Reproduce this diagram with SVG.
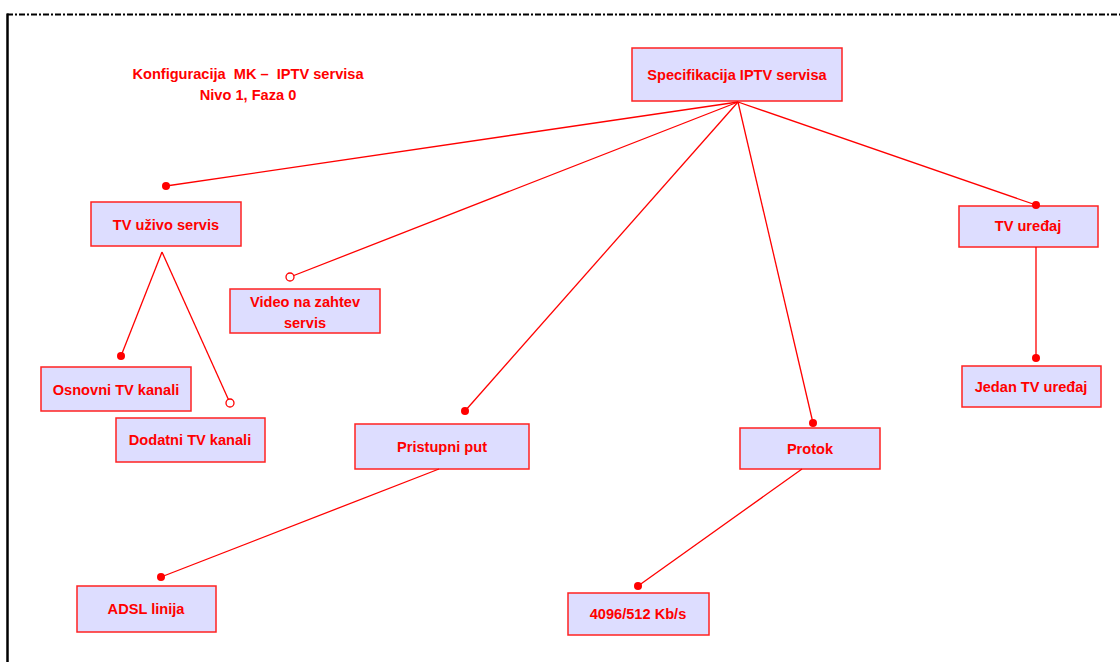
<svg xmlns="http://www.w3.org/2000/svg" width="1120" height="662" viewBox="0 0 1120 662">
<style>
.box{fill:#DDDDFF;stroke:#FF2222;stroke-width:1.5}
.t{font-family:"Liberation Sans",Arial,sans-serif;font-weight:bold;font-size:14.6px;fill:#FF0000;text-anchor:middle;dominant-baseline:central;white-space:pre}
.c{stroke:#FF0000;stroke-width:1.3;fill:none}
.dot{fill:#FF0000}
.odot{fill:#FFFFFF;stroke:#FF0000;stroke-width:1.3}
</style>
<rect width="1120" height="662" fill="#FFFFFF"/>
<g id="frame">
<line x1="7" y1="14.5" x2="1120" y2="14.5" stroke="#000" stroke-width="2" stroke-dasharray="6,2,2,2"/>
<line x1="7.5" y1="13.5" x2="7.5" y2="662" stroke="#000" stroke-width="2.5"/>
</g>
<g id="title">
<text class="t" x="248" y="74" xml:space="preserve">Konfiguracija  MK –  IPTV servisa</text>
<text class="t" x="248" y="95">Nivo 1, Faza 0</text>
</g>
<g id="spec">
<rect class="box" x="632" y="48" width="210" height="53"/>
<text class="t" x="737" y="75">Specifikacija IPTV servisa</text>
</g>
<g id="tvuzivo">
<rect class="box" x="91" y="202" width="150" height="44"/>
<text class="t" x="166" y="225">TV uživo servis</text>
</g>
<g id="vod">
<rect class="box" x="230" y="289" width="150" height="44"/>
<text class="t" x="305" y="302">Video na zahtev</text>
<text class="t" x="305" y="323">servis</text>
</g>
<g id="osnovni">
<rect class="box" x="41" y="367" width="150" height="44"/>
<text class="t" x="116" y="390">Osnovni TV kanali</text>
</g>
<g id="dodatni">
<rect class="box" x="116" y="418" width="149" height="44"/>
<text class="t" x="190" y="440">Dodatni TV kanali</text>
</g>
<g id="tvuredjaj">
<rect class="box" x="959" y="206" width="139" height="41"/>
<text class="t" x="1028" y="226">TV uređaj</text>
</g>
<g id="jedan">
<rect class="box" x="962" y="366" width="139" height="41"/>
<text class="t" x="1031" y="387">Jedan TV uređaj</text>
</g>
<g id="pristupni">
<rect class="box" x="355" y="424" width="174" height="45"/>
<text class="t" x="442" y="447">Pristupni put</text>
</g>
<g id="protok">
<rect class="box" x="740" y="428" width="140" height="41"/>
<text class="t" x="810" y="449">Protok</text>
</g>
<g id="adsl">
<rect class="box" x="77" y="586" width="139" height="46"/>
<text class="t" x="146" y="609">ADSL linija</text>
</g>
<g id="rate">
<rect class="box" x="568" y="593" width="141" height="42"/>
<text class="t" x="638" y="614">4096/512 Kb/s</text>
</g>
<g id="connectors">
<line class="c" x1="738" y1="102" x2="166" y2="186"/>
<line class="c" x1="738" y1="102" x2="290" y2="277"/>
<line class="c" x1="738" y1="102" x2="465" y2="411"/>
<line class="c" x1="738" y1="102" x2="813" y2="423"/>
<line class="c" x1="738" y1="102" x2="1036" y2="205"/>
<line class="c" x1="162" y1="252" x2="121" y2="356"/>
<line class="c" x1="162" y1="252" x2="230" y2="403"/>
<line class="c" x1="1036" y1="247" x2="1036" y2="358"/>
<line class="c" x1="439" y1="469" x2="161" y2="577"/>
<line class="c" x1="802" y1="469" x2="638" y2="586"/>
<circle class="dot" cx="166" cy="186" r="4"/>
<circle class="odot" cx="290" cy="277" r="4"/>
<circle class="dot" cx="465" cy="411" r="4"/>
<circle class="dot" cx="813" cy="423" r="4"/>
<circle class="dot" cx="1036" cy="205" r="4"/>
<circle class="dot" cx="121" cy="356" r="4"/>
<circle class="odot" cx="230" cy="403" r="4"/>
<circle class="dot" cx="1036" cy="358" r="4"/>
<circle class="dot" cx="161" cy="577" r="4"/>
<circle class="dot" cx="638" cy="586" r="4"/>
</g>
</svg>
